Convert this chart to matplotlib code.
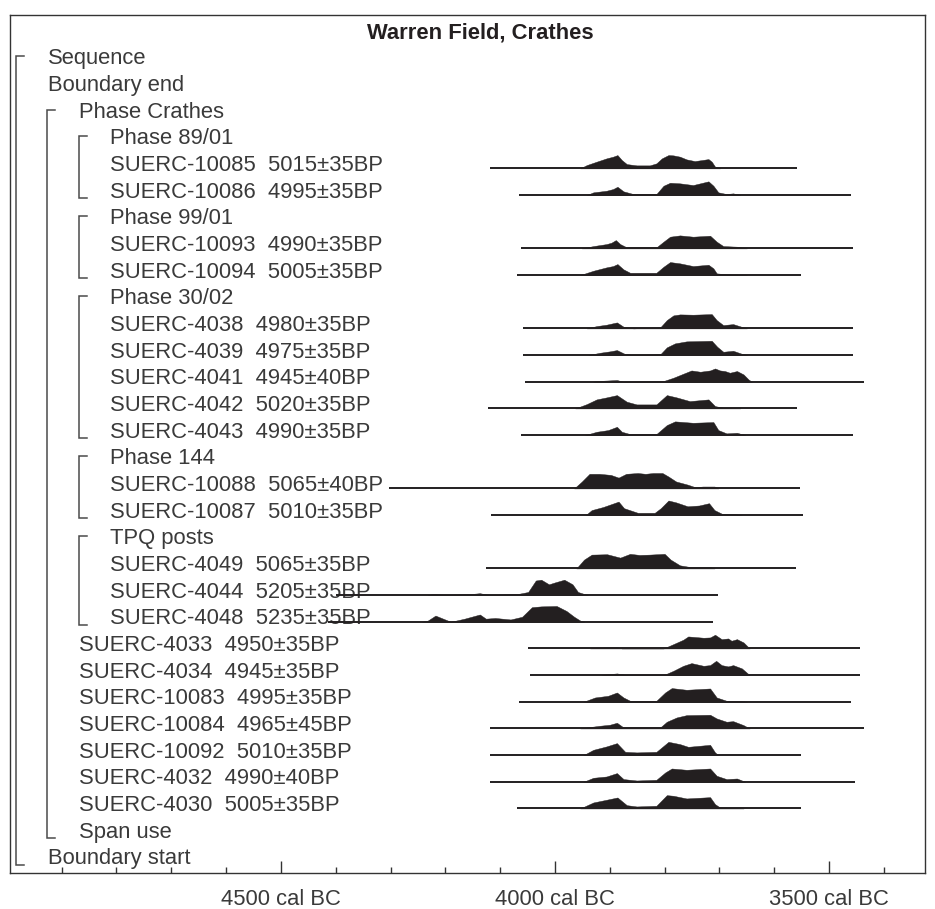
import matplotlib
matplotlib.use('Agg')
import matplotlib.pyplot as plt
import matplotlib.transforms as mtransforms
import numpy as np

plt.rcParams['font.family'] = ['Liberation Sans', 'DejaVu Sans']

# ---------------- data ----------------
title = "Warren Field, Crathes"

row_labels = [
    "Sequence", "Boundary end", "Phase Crathes", "Phase 89/01",
    "SUERC-10085  5015±35BP", "SUERC-10086  4995±35BP", "Phase 99/01",
    "SUERC-10093  4990±35BP", "SUERC-10094  5005±35BP", "Phase 30/02",
    "SUERC-4038  4980±35BP", "SUERC-4039  4975±35BP", "SUERC-4041  4945±40BP",
    "SUERC-4042  5020±35BP", "SUERC-4043  4990±35BP", "Phase 144",
    "SUERC-10088  5065±40BP", "SUERC-10087  5010±35BP", "TPQ posts",
    "SUERC-4049  5065±35BP", "SUERC-4044  5205±35BP", "SUERC-4048  5235±35BP",
    "SUERC-4033  4950±35BP", "SUERC-4034  4945±35BP", "SUERC-10083  4995±35BP",
    "SUERC-10084  4965±45BP", "SUERC-10092  5010±35BP", "SUERC-4032  4990±40BP",
    "SUERC-4030  5005±35BP", "Span use", "Boundary start",
]
row_levels = [0, 0, 1, 2, 2, 2, 2, 2, 2, 2, 2, 2, 2, 2, 2, 2, 2, 2, 2, 2, 2, 2,
              1, 1, 1, 1, 1, 1, 1, 1, 0]

# brackets: (first row, last row, nesting level)
brackets = [(0, 30, 0), (2, 29, 1), (3, 5, 2), (6, 8, 2), (9, 14, 2),
            (15, 17, 2), (18, 21, 2)]

# x axis (cal BC)
major_ticks = [4500, 4000, 3500]
major_labels = ["4500 cal BC", "4000 cal BC", "3500 cal BC"]
minor_ticks = [4900, 4800, 4700, 4600, 4400, 4300, 4200, 4100,
               3900, 3800, 3700, 3600, 3400]

# posterior distributions: years cal BC, relative density, range line
s10085_yr = [3954, 3942, 3924, 3906, 3894, 3886, 3878, 3869, 3851, 3827, 3815,
             3805, 3793, 3784, 3772, 3760, 3745, 3732, 3720, 3714, 3708, 3699]
s10085_p = [0, 3.3, 6.7, 10, 11.7, 13.3, 8.3, 4.3, 3, 3, 5, 10, 13.3, 13, 11.7,
            9, 7.3, 8.3, 9.3, 6.7, 1.7, 0]
s10085_rng = [4119, 3558]

s10086_yr = [3942, 3930, 3906, 3894, 3886, 3875, 3857, 3815, 3802, 3790, 3772,
             3748, 3720, 3711, 3702, 3687, 3675, 3662]
s10086_p = [0, 2.7, 4.3, 6, 8.3, 3.7, 1, 1, 9.3, 12.3, 11.7, 10, 13.7, 9.3, 2.7,
            1, 1.7, 0]
s10086_rng = [4065, 3460]

s10093_yr = [3951, 3930, 3906, 3897, 3889, 3881, 3869, 3815, 3802, 3790, 3772,
             3748, 3717, 3705, 3693, 3668, 3650]
s10093_p = [0, 2.3, 4.3, 5.7, 8.3, 4.3, 1, 1, 6.7, 11.7, 13, 11.7, 12.7, 6.7,
            2.3, 1.7, 0]
s10093_rng = [4062, 3457]

s10094_yr = [3954, 3930, 3906, 3894, 3886, 3875, 3863, 3815, 3802, 3790, 3772,
             3748, 3720, 3711, 3705, 3687, 3650]
s10094_p = [0, 4.3, 7.7, 9, 11, 5.7, 2.3, 2.3, 8.3, 13, 11.7, 9, 10.3, 6.7, 1.7,
            0.7, 0]
s10094_rng = [4070, 3552]

s4038_yr = [3942, 3924, 3906, 3887, 3875, 3857, 3808, 3796, 3784, 3772, 3748,
            3714, 3705, 3693, 3675, 3656, 3650]
s4038_p = [0, 2.3, 3.7, 6, 1.7, 0, 1, 8.3, 13, 14, 13.7, 14.3, 8.3, 3.3, 4.3, 1, 0]
s4038_rng = [4058, 3457]

s4039_yr = [3939, 3918, 3900, 3887, 3872, 3857, 3808, 3796, 3781, 3760, 3714,
            3704, 3693, 3675, 3656, 3650]
s4039_p = [0, 2.3, 3.7, 5, 1, 0, 0.7, 7.7, 11.7, 13.7, 14.3, 8.3, 3.3, 4.3, 0.7, 0]
s4039_rng = [4058, 3457]

s4041_yr = [3930, 3924, 3887, 3875, 3802, 3784, 3766, 3751, 3735, 3717, 3708,
            3699, 3690, 3681, 3668, 3656, 3647, 3641]
s4041_p = [0, 0.7, 1.7, 0, 0.7, 4, 8, 11.3, 10, 11.3, 13.3, 11.3, 10.7, 9, 10.7,
           7.3, 2.3, 0]
s4041_rng = [4054, 3436]

s4042_yr = [3963, 3942, 3924, 3906, 3887, 3869, 3851, 3815, 3796, 3778, 3754,
            3720, 3708, 3693, 3662]
s4042_p = [0, 4.3, 9, 11, 13.3, 6.7, 4, 4, 13.3, 11, 7.3, 9, 2.3, 0.7, 0]
s4042_rng = [4122, 3558]

s4043_yr = [3945, 3924, 3903, 3887, 3878, 3863, 3815, 3796, 3781, 3748, 3711,
            3702, 3687, 3668, 3653]
s4043_p = [0, 3.3, 5, 8.3, 3.3, 1, 1, 10, 13.7, 12.3, 13, 5, 1.7, 2.3, 0]
s4043_rng = [4062, 3457]

s10088_yr = [3965, 3951, 3937, 3919, 3898, 3884, 3870, 3849, 3835, 3821, 3804,
             3793, 3779, 3758, 3744, 3730, 3709, 3702]
s10088_p = [0, 6.9, 14.6, 14.6, 13.5, 10.8, 14.6, 15.4, 14.6, 15.4, 15.4, 11.9,
            6.9, 3.8, 1.2, 1.9, 1.9, 0]
s10088_rng = [4302, 3553]

s10087_yr = [3944, 3933, 3912, 3898, 3884, 3874, 3849, 3818, 3807, 3793, 3779,
             3758, 3737, 3719, 3709, 3695, 3674, 3660]
s10087_p = [0, 5, 8.1, 10.8, 13.5, 6.9, 2.3, 2.3, 6.9, 14.6, 12.7, 8.8, 9.6,
            11.9, 5, 1.2, 1.2, 0]
s10087_rng = [4116, 3547]

s4049_yr = [3961, 3947, 3933, 3905, 3881, 3863, 3846, 3828, 3800, 3789, 3772,
            3751, 3716, 3709]
s4049_p = [0, 8.8, 13.8, 14.2, 10.8, 14.6, 13.5, 13.8, 14.6, 8.8, 3.1, 1.2, 1.2, 0]
s4049_rng = [4126, 3560]

s4044_yr = [4232, 4221, 4200, 4151, 4137, 4119, 4067, 4049, 4035, 4025, 4011,
            4000, 3983, 3968, 3958, 3940]
s4044_p = [0, 1.2, 0, 1.2, 1.9, 0, 1.2, 3.1, 14.6, 15.4, 10.8, 12.7, 15.4, 10.8,
           3.1, 0]
s4044_rng = [4400, 3702]

s4048_yr = [4242, 4232, 4218, 4204, 4190, 4165, 4137, 4126, 4109, 4081, 4060,
            4042, 4025, 3997, 3979, 3965, 3954, 3947]
s4048_p = [0, 1.2, 6.2, 3.1, 0, 3.1, 7.3, 3.1, 3.8, 2.3, 5, 14.6, 15.4, 15.8,
           10.8, 5, 1.2, 0]
s4048_rng = [4414, 3712]

s4033_yr = [3936, 3927, 3887, 3878, 3802, 3784, 3766, 3757, 3729, 3717, 3708,
            3696, 3684, 3678, 3668, 3656, 3645]
s4033_p = [0, 0.7, 1.3, 0, 0, 4.3, 8.7, 12, 10.7, 11, 13.7, 9.3, 10, 7.7, 9.3, 6, 0]
s4033_rng = [4050, 3443]

s4034_yr = [3915, 3906, 3887, 3869, 3802, 3784, 3766, 3751, 3729, 3717, 3706,
            3696, 3684, 3675, 3659, 3645]
s4034_p = [0, 0.7, 1.7, 0, 0, 4.3, 9.3, 12, 9.3, 10, 14.3, 10, 8.7, 10, 6.7, 0]
s4034_rng = [4046, 3443]

s10083_yr = [3948, 3927, 3903, 3887, 3875, 3863, 3815, 3799, 3787, 3760, 3717,
             3705, 3687, 3662, 3650]
s10083_p = [0, 4.3, 6, 9.3, 4.3, 1, 1, 9.3, 13.7, 12, 13.3, 4.3, 1, 0.7, 0]
s10083_rng = [4065, 3460]

s10084_yr = [3954, 3942, 3918, 3900, 3887, 3875, 3808, 3796, 3778, 3760, 3717,
             3705, 3687, 3675, 3656, 3645]
s10084_p = [0, 1, 2.7, 3.7, 5.7, 1, 1, 6.7, 11, 13.3, 13.7, 10, 6.7, 7.3, 3.3, 0]
s10084_rng = [4119, 3436]

s10092_yr = [3948, 3930, 3906, 3887, 3872, 3851, 3815, 3793, 3772, 3757, 3717,
             3708, 3702]
s10092_p = [0, 5.3, 8.7, 12, 3.3, 2.7, 3.3, 13.3, 11, 8.3, 10.3, 2.7, 0]
s10092_rng = [4119, 3552]

s4032_yr = [3948, 3930, 3906, 3887, 3875, 3851, 3815, 3799, 3787, 3760, 3717,
            3705, 3687, 3668, 3653]
s4032_p = [0, 4, 5.3, 8.7, 2.7, 1.3, 2, 9.3, 13.3, 12, 13.3, 6, 2.7, 3.3, 0]
s4032_rng = [4119, 3452]

s4030_yr = [3954, 3930, 3906, 3886, 3869, 3851, 3815, 3796, 3784, 3760, 3717,
            3708, 3699, 3656]
s4030_p = [0, 6, 8.7, 11, 3.3, 2, 2.7, 13.3, 12.7, 10, 11.3, 4.3, 1, 0]
s4030_rng = [4070, 3552]

distributions = [
    (4, s10085_yr, s10085_p, s10085_rng),
    (5, s10086_yr, s10086_p, s10086_rng),
    (7, s10093_yr, s10093_p, s10093_rng),
    (8, s10094_yr, s10094_p, s10094_rng),
    (10, s4038_yr, s4038_p, s4038_rng),
    (11, s4039_yr, s4039_p, s4039_rng),
    (12, s4041_yr, s4041_p, s4041_rng),
    (13, s4042_yr, s4042_p, s4042_rng),
    (14, s4043_yr, s4043_p, s4043_rng),
    (16, s10088_yr, s10088_p, s10088_rng),
    (17, s10087_yr, s10087_p, s10087_rng),
    (19, s4049_yr, s4049_p, s4049_rng),
    (20, s4044_yr, s4044_p, s4044_rng),
    (21, s4048_yr, s4048_p, s4048_rng),
    (22, s4033_yr, s4033_p, s4033_rng),
    (23, s4034_yr, s4034_p, s4034_rng),
    (24, s10083_yr, s10083_p, s10083_rng),
    (25, s10084_yr, s10084_p, s10084_rng),
    (26, s10092_yr, s10092_p, s10092_rng),
    (27, s4032_yr, s4032_p, s4032_rng),
    (28, s4030_yr, s4030_p, s4030_rng),
]

# ---------------- layout ----------------
W, H = 935, 909
AX_L, AX_R, AX_T, AX_B = 9.5, 925.0, 15.0, 873.3
ROW0, ROWH = 56.7, 26.67
FS = 15.8
TXT = '#3a3a3a'
INK = '#231f20'

fig = plt.figure(figsize=(W / 100, H / 100), dpi=100)
ax = fig.add_axes([AX_L / W, 1 - AX_B / H, (AX_R - AX_L) / W, (AX_B - AX_T) / H])


def row_of_px(y):
    return (y - ROW0) / ROWH


def xfrac(px):
    return (px - AX_L) / (AX_R - AX_L)


ax.set_xlim(4995, 3325)
ax.set_ylim(row_of_px(AX_B), row_of_px(AX_T))
trans = mtransforms.blended_transform_factory(ax.transAxes, ax.transData)

# labels
level_x = [48, 79, 110]
for i, (lab, lev) in enumerate(zip(row_labels, row_levels)):
    ax.text(xfrac(level_x[lev]), i + 7.5 / ROWH, lab, transform=trans,
            ha='left', va='baseline', fontsize=FS, color=TXT, zorder=1)

# brackets
bracket_x = [15.5, 47, 78.5]
hook = 8
for r0, r1, lev in brackets:
    xv = xfrac(bracket_x[lev])
    xh = xfrac(bracket_x[lev] + hook)
    top = r0 - 0.5 / ROWH
    bot = r1 + 8 / ROWH
    ax.plot([xh, xv, xv, xh], [top, top, bot, bot], transform=trans,
            color='#4a4a4a', lw=1.1, solid_joinstyle='miter', clip_on=False)

# distributions
for row, yrs, p, rng in distributions:
    base = row + 5 / ROWH
    ax.plot(rng, [base, base], color=INK, lw=1.4, solid_capstyle='butt', zorder=3)
    ax.fill_between(yrs, base, base - np.asarray(p) / ROWH, color=INK, lw=0.3,
                    edgecolor=INK, zorder=3)

# title
ax.text(xfrac(480), row_of_px(38.5), title, transform=trans, ha='center',
        va='baseline', fontsize=FS, fontweight='bold', color=INK)

# axes styling
ax.set_yticks([])
ax.set_xticks(major_ticks)
ax.set_xticklabels(major_labels)
ax.set_xticks(minor_ticks, minor=True)
ax.tick_params(axis='x', which='major', direction='in', length=12 * 0.72,
               width=1.0, pad=11.5, labelsize=FS, labelcolor=TXT, color='#333333')
ax.tick_params(axis='x', which='minor', direction='in', length=6 * 0.72,
               width=1.0, color='#333333')
for sp in ax.spines.values():
    sp.set_linewidth(1.0)
    sp.set_color('#333333')

fig.savefig('out.png', dpi=100)
